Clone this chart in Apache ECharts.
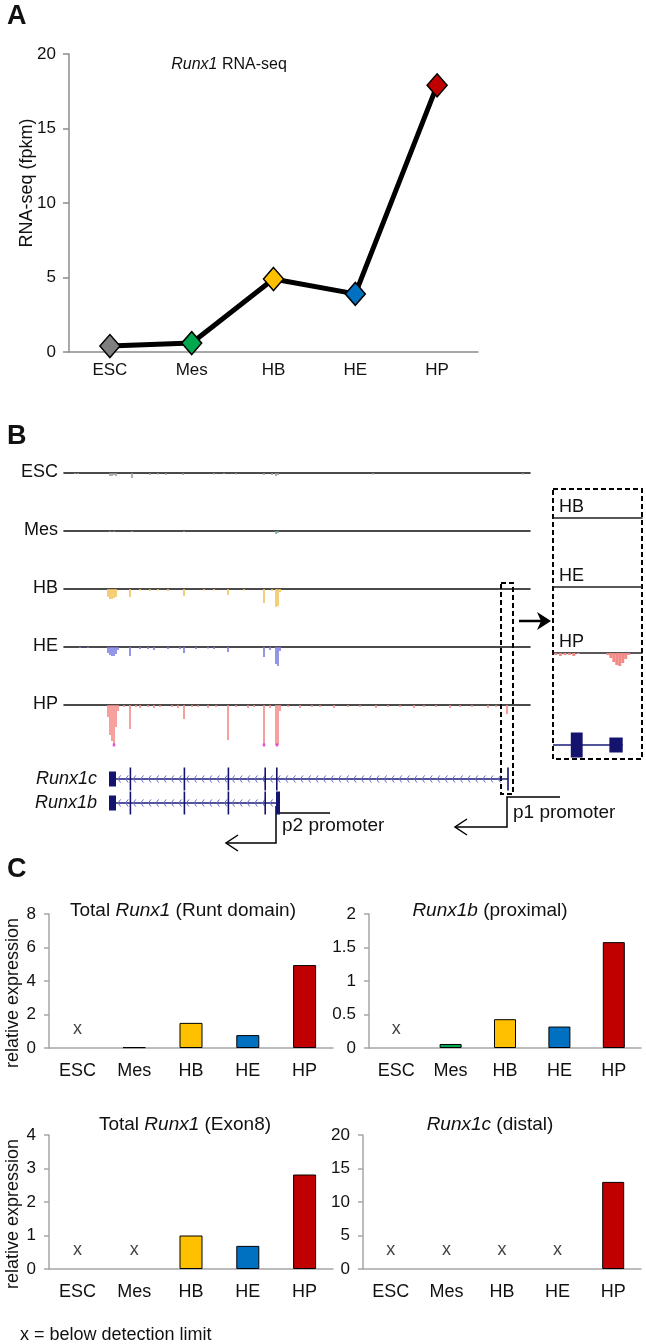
<!DOCTYPE html>
<html><head><meta charset="utf-8">
<script src="https://cdn.jsdelivr.net/npm/echarts@6/dist/echarts.min.js"></script>
<style>html,body{margin:0;padding:0;background:#fff}#c{width:646px;height:1344px}</style>
</head><body><div id="c"></div>
<script>
// ---------------- DATA ----------------
const stages = ['ESC', 'Mes', 'HB', 'HE', 'HP'];
// Panel A: Runx1 RNA-seq (fpkm)
const rnaSeqFpkm = [0.4, 0.6, 4.9, 3.9, 17.9];
const yRangeA = [0, 20, 5];

// Panel B: browser tracks, [position kb, read depth]
const escSignal = [[5.5,1],[7,1],[23,3],[24,3],[25,2],[26,3],[34,5],[43,2],[47,1.5],[51,2],[59.5,2],[75,1.5],[80,1],[86,1.5],[100,2],[104,2],[106,3],[107,2],[154.5,1.5],[229.5,1.5]];
const mesSignal = [[23,1],[25,1],[34,1],[60,1],[106,3],[107,2]];
const hbSignal = [[22,8],[23,10],[24,10],[25,9],[26,8],[33,8],[38,1.5],[43,2],[47,1.5],[52,2],[60,7],[70,1.5],[75,1.5],[82,6],[90,1.5],[100,14],[104,2],[106,18],[107,17],[108,3]];
const heSignal = [[8,1],[12,1],[22,6],[23,8],[24,9],[25,9],[26,7],[27,3],[33,9],[38,2],[42,2],[45,3],[52,2],[58,2],[60,6],[66,2],[72,1.5],[75,2],[82,5],[100,10],[103,3],[106,17],[107,19],[108,4]];
const hpSignal = [[22,12],[23,30],[24,36],[25,40],[26,22],[27,6],[30,2],[33,24],[36,2],[38,3],[42,2],[45,3],[48,2],[54,2],[57,3],[60,14],[64,2],[67,2],[72,3],[76,2],[82,35],[86,2],[92,3],[95,2],[100,40],[103,3],[106,40],[107,40],[108,6],[112,2],[118,3],[124,2],[128,2],[135,3],[142,2],[148,2],[156,3],[162,2],[168,2],[175,3],[180,2],[186,2],[193,3],[198,2],[204,2],[212,3],[216,2],[221.5,9]];
const hpPeakTips = [[25,40],[100,40],[106.5,40]];
// Inset (p1 promoter region)
const insetHpSignal = [[218.7,2],[219.0,3],[219.3,2],[219.6,2],[219.9,3],[220.2,1],[222.2,2],[222.4,5],[222.6,9],[222.8,12],[223.0,13],[223.2,10],[223.4,6],[223.6,2]];
// Gene models [start kb, end kb, type]
const transcripts = ['Runx1c', 'Runx1b'];
const runx1cSpan = [22.5, 222];
const runx1bSpan = [22.5, 108];
const runx1cExons = [[22.5,26,'utr'],[32.8,33.4,'cds'],[59.8,60.4,'cds'],[81.8,82.4,'cds'],[100.2,100.8,'cds'],[106,106.6,'cds'],[221.6,222,'cds']];
const runx1bExons = [[22.5,26,'utr'],[32.8,33.4,'cds'],[59.8,60.4,'cds'],[81.8,82.4,'cds'],[100.2,100.8,'cds'],[106,108,'cds']];
const insetSpan = [218.5, 223.2];
const insetExons = [[219.7,220.5,'cds'],[222.3,223.2,'utr']];

// Panel C: relative expression (null = below detection limit)
const runtDomain = [null, 0.05, 1.5, 0.77, 4.95];
const runx1bProximal = [null, 0.06, 0.43, 0.32, 1.58];
const exon8 = [null, null, 1.0, 0.69, 2.82];
const runx1cDistal = [null, null, null, null, 13.0];
const yRangesC = [[0, 8, 2], [0, 2, 0.5], [0, 4, 1], [0, 20, 5]];

// ---------------- STYLE / LAYOUT ----------------
const FONT = '"Liberation Sans", Arial, sans-serif';
const TXT = '#111';
const stageColors = ['#7f7f7f', '#00a84f', '#ffc000', '#0070c0', '#c00000'];
const trackColors = ['#9a9a9a', '#7aa88a', '#f2c25a', '#7b7be3', '#f48a86'];
const trackTops = [473, 531, 589, 647, 705];
const insetTops = [518, 587, 653];
const AX = '#8c8c8c';

const grid = [], xAxis = [], yAxis = [], series = [], graphic = [];
function addGrid(g, xa, ya) {
  grid.push(g); const i = grid.length - 1;
  xAxis.push(Object.assign({ gridIndex: i }, xa));
  yAxis.push(Object.assign({ gridIndex: i }, ya));
  return i;
}
function text(x, y, t, o) {
  o = o || {};
  const fs = o.fontSize || 18;
  const st = { text: t, fontSize: fs, fontFamily: FONT, fill: TXT, textAlign: o.align || 'left', textVerticalAlign: 'middle', fontWeight: o.weight || 'normal', fontStyle: o.style || 'normal' };
  if (o.rich) {
    st.rich = {
      i: { fontStyle: 'italic', fontSize: fs, fontFamily: FONT, fill: TXT },
      n: { fontSize: fs, fontFamily: FONT, fill: TXT }
    };
  }
  graphic.push({ type: 'text', x: x, y: y, style: st, silent: true });
}
function poly(points, o) {
  o = o || {};
  graphic.push({ type: 'polyline', shape: { points: points }, style: { stroke: '#000', lineWidth: o.w || 1.5, fill: null }, silent: true });
}

// ---------- Panel A ----------
const gA = addGrid({ left: 69, top: 54, width: 409, height: 298 },
  { type: 'category', data: stages,
    axisLine: { lineStyle: { color: AX, width: 1.5 } },
    axisTick: { length: 6, lineStyle: { color: AX, width: 1.5 } },
    axisLabel: { color: TXT, fontSize: 17, fontFamily: FONT, margin: 10 } },
  { type: 'value', min: yRangeA[0], max: yRangeA[1], interval: yRangeA[2],
    splitLine: { show: false },
    axisLine: { show: true, lineStyle: { color: AX, width: 1.5 } },
    axisTick: { show: true, length: 6, lineStyle: { color: AX, width: 1.5 } },
    axisLabel: { color: TXT, fontSize: 17, fontFamily: FONT, margin: 13 },
    name: 'RNA-seq (fpkm)', nameLocation: 'middle', nameGap: 33, nameMoveOverlap: false,
    nameTextStyle: { color: TXT, fontSize: 18, fontFamily: FONT, padding: [0, 0, 0, 40] } });
series.push({ type: 'line', xAxisIndex: gA, yAxisIndex: gA,
  data: rnaSeqFpkm.map((v, i) => ({ value: v, itemStyle: { color: stageColors[i] } })),
  symbol: 'diamond', symbolSize: [20, 23],
  lineStyle: { color: '#000', width: 5 },
  itemStyle: { borderColor: '#000', borderWidth: 1.5 }, z: 3 });
text(229, 65, '{i|Runx1}{n| RNA-seq}', { fontSize: 16, align: 'center', rich: true });
text(7, 17, 'A', { fontSize: 27, weight: 'bold' });

// ---------- Panel B ----------
text(7, 437, 'B', { fontSize: 27, weight: 'bold' });
const trackSignals = [escSignal, mesSignal, hbSignal, heSignal, hpSignal];
const trackAxisX = { type: 'value', min: 0, max: 233, position: 'top',
  axisLine: { show: true, onZero: false, lineStyle: { color: '#111', width: 1.6 } },
  axisTick: { show: false }, axisLabel: { show: false }, splitLine: { show: false } };
trackSignals.forEach((sig, k) => {
  const g = addGrid({ left: 64, width: 466, top: trackTops[k], height: 45 },
    trackAxisX, { type: 'value', min: 0, max: 45, inverse: true, show: false });
  series.push({ type: 'bar', xAxisIndex: g, yAxisIndex: g, data: sig, barWidth: 1.6,
    itemStyle: { color: trackColors[k] }, silent: true });
  if (k === 4) {
    series.push({ type: 'scatter', xAxisIndex: g, yAxisIndex: g, data: hpPeakTips,
      symbol: 'rect', symbolSize: [2.5, 3], itemStyle: { color: '#e030e0' }, silent: true });
  }
  text(58, trackTops[k] - 1, stages[k], { align: 'right' });
});

function geneRenderer(spans, exonLists, heights, chevrons) {
  return function (params, api) {
    const i = params.dataIndex;
    const span = spans[i], exons = exonLists[i];
    const p0 = api.coord([span[0], i]), p1 = api.coord([span[1], i]);
    const y = p0[1];
    const ch = [];
    ch.push({ type: 'line', shape: { x1: p0[0], y1: y, x2: p1[0], y2: y }, style: { stroke: '#1b1b7a', lineWidth: 1.5 } });
    if (chevrons) {
      for (let x = p0[0] + 9; x < p1[0] - 4; x += 7.6) {
        ch.push({ type: 'polyline', shape: { points: [[x + 2.6, y - 3.6], [x, y], [x + 2.6, y + 3.6]] },
          style: { stroke: '#6a6ac6', lineWidth: 1, fill: null } });
      }
    }
    exons.forEach(e => {
      const a = api.coord([e[0], i])[0], b = api.coord([e[1], i])[0];
      const h = heights[e[2]];
      const w = Math.max(b - a, 1.6);
      ch.push({ type: 'rect', shape: { x: a, y: y - h / 2, width: w, height: h }, style: { fill: '#14146e' } });
    });
    return { type: 'group', children: ch };
  };
}
const gGene = addGrid({ left: 64, width: 466, top: 767, height: 48 },
  { type: 'value', min: 0, max: 233, show: false },
  { type: 'category', data: transcripts, inverse: true,
    axisLine: { show: false }, axisTick: { show: false }, splitLine: { show: false },
    axisLabel: { show: true, margin: -33, color: TXT, fontSize: 18, fontStyle: 'italic', fontFamily: FONT } });
series.push({ type: 'custom', xAxisIndex: gGene, yAxisIndex: gGene,
  data: [[runx1cSpan[0], 0, runx1cSpan[1]], [runx1bSpan[0], 1, runx1bSpan[1]]],
  renderItem: geneRenderer([runx1cSpan, runx1bSpan], [runx1cExons, runx1bExons], { utr: 15, cds: 23 }, true),
  silent: true });

// inset tracks
const insetAxisX = Object.assign({}, trackAxisX, { min: 218.5, max: 224.5,
  axisLine: { show: true, onZero: false, lineStyle: { color: '#222', width: 1.5 } } });
['HB', 'HE', 'HP'].forEach((nm, k) => {
  const g = addGrid({ left: 553, width: 89, top: insetTops[k], height: 30 },
    insetAxisX, { type: 'value', min: 0, max: 30, inverse: true, show: false });
  if (nm === 'HP') {
    series.push({ type: 'bar', xAxisIndex: g, yAxisIndex: g, data: insetHpSignal, barWidth: 3,
      itemStyle: { color: trackColors[4] }, silent: true });
  }
  text(559, insetTops[k] - 11, nm, {});
});
const gInsetGene = addGrid({ left: 553, width: 89, top: 733, height: 24 },
  { type: 'value', min: 218.5, max: 224.5, show: false },
  { type: 'category', data: ['Runx1c'], show: false });
series.push({ type: 'custom', xAxisIndex: gInsetGene, yAxisIndex: gInsetGene,
  data: [[insetSpan[0], 0, insetSpan[1]]],
  renderItem: geneRenderer([insetSpan], [insetExons], { utr: 15, cds: 25 }, false),
  silent: true });

// annotation boxes and arrows
graphic.push({ type: 'rect', shape: { x: 501, y: 583, width: 12, height: 211 },
  style: { fill: 'transparent', stroke: '#000', lineWidth: 2, lineDash: [5, 3] }, silent: true });
graphic.push({ type: 'rect', shape: { x: 553, y: 489, width: 89, height: 270 },
  style: { fill: 'transparent', stroke: '#000', lineWidth: 2, lineDash: [5, 3] }, silent: true });
graphic.push({ type: 'line', shape: { x1: 519, y1: 621, x2: 543, y2: 621 }, style: { stroke: '#000', lineWidth: 2.5 }, silent: true });
graphic.push({ type: 'polygon', shape: { points: [[537, 612], [551, 621], [537, 630], [541, 621]] }, style: { fill: '#000' }, silent: true });
// p2 promoter
poly([[276, 806], [276, 843], [226, 843]]);
poly([[276, 813], [330, 813]]);
poly([[238, 835], [226, 843], [238, 851]]);
text(282, 826, 'p2 promoter', { fontSize: 19 });
// p1 promoter
poly([[560, 797], [507, 797], [507, 827], [455, 827]]);
poly([[467, 819], [455, 827], [467, 835]]);
text(513, 813, 'p1 promoter', { fontSize: 19 });

// ---------- Panel C ----------
text(7, 870, 'C', { fontSize: 27, weight: 'bold' });
const gridsC = [{ left: 49, top: 914, width: 284, height: 134 }, { left: 369, top: 914, width: 272, height: 134 },
  { left: 49, top: 1135, width: 284, height: 134 }, { left: 363, top: 1135, width: 278, height: 134 }];
const valuesC = [runtDomain, runx1bProximal, exon8, runx1cDistal];
const titlesC = ['{n|Total }{i|Runx1}{n| (Runt domain)}', '{i|Runx1b}{n| (proximal)}', '{n|Total }{i|Runx1}{n| (Exon8)}', '{i|Runx1c}{n| (distal)}'];
const titlePos = [[183, 911], [490, 911], [185, 1125], [490, 1125]];
valuesC.forEach((vals, k) => {
  const r = yRangesC[k];
  const ya = { type: 'value', min: r[0], max: r[1], interval: r[2], splitLine: { show: false },
    axisLine: { show: true, lineStyle: { color: '#a6a6a6', width: 1.5 } },
    axisTick: { show: true, length: 5, lineStyle: { color: '#a6a6a6', width: 1.5 } },
    axisLabel: { color: TXT, fontSize: 17, fontFamily: FONT, margin: 13 } };
  if (k % 2 === 0) {
    Object.assign(ya, { name: 'relative expression', nameLocation: 'middle', nameGap: 27,
      nameTextStyle: { color: TXT, fontSize: 18, fontFamily: FONT, padding: [0, 24, 0, 0] } });
  }
  const g = addGrid(gridsC[k],
    { type: 'category', data: stages,
      axisLine: { lineStyle: { color: '#a6a6a6', width: 1.5 } },
      axisTick: { length: 5, lineStyle: { color: '#a6a6a6', width: 1.5 } },
      axisLabel: { color: TXT, fontSize: 18, fontFamily: FONT, margin: 14 } }, ya);
  series.push({ type: 'bar', xAxisIndex: g, yAxisIndex: g, barWidth: k % 2 === 0 ? 23 : 22,
    data: vals.map((v, i) => v === null ? '-' : { value: v, itemStyle: { color: stageColors[i] } }),
    itemStyle: { borderColor: '#000', borderWidth: 1 }, silent: true });
  series.push({ type: 'scatter', xAxisIndex: g, yAxisIndex: g, symbolSize: 1,
    data: vals.map((v, i) => v === null ? [i, 0] : null).filter(d => d !== null),
    itemStyle: { color: 'rgba(0,0,0,0)' },
    label: { show: true, position: 'top', distance: 9, formatter: 'x', color: TXT, fontSize: 18, fontFamily: FONT },
    silent: true });
  text(titlePos[k][0], titlePos[k][1], titlesC[k], { fontSize: 19, align: 'center', rich: true });
});
text(20, 1335, 'x = below detection limit', { fontSize: 18 });

const chart = echarts.init(document.getElementById('c'), null, { renderer: 'canvas' });
chart.setOption({ animation: false, backgroundColor: '#fff', grid, xAxis, yAxis, series, graphic });
</script></body></html>
